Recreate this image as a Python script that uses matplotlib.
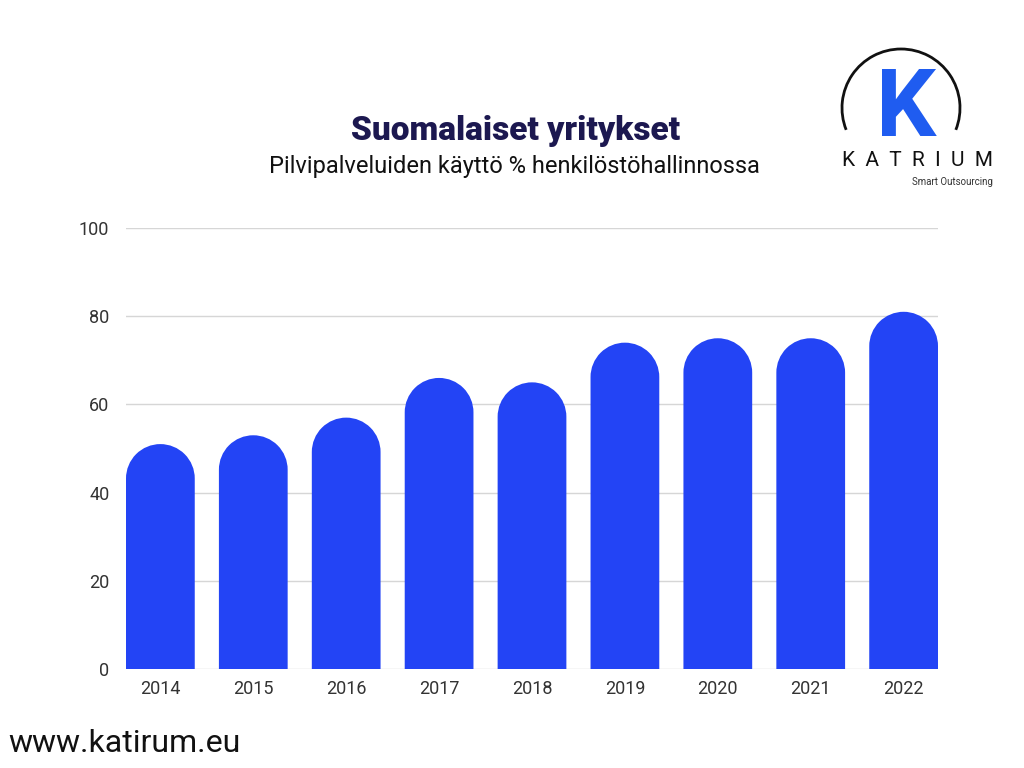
import matplotlib
matplotlib.use('Agg')
import matplotlib.pyplot as plt
from matplotlib.patches import Arc, PathPatch
from matplotlib.path import Path
from matplotlib.transforms import Affine2D

# Data
years = ['2014', '2015', '2016', '2017', '2018', '2019', '2020', '2021', '2022']
values = [51, 53, 57, 66, 65, 74, 75, 75, 81]
yticks = [0, 20, 40, 60, 80, 100]

bar_color = '#2344f5'
bar_w = 0.74

plt.rcParams['font.family'] = ['Roboto', 'DejaVu Sans']

fig = plt.figure(figsize=(10.24, 7.68), dpi=100)
ax = fig.add_axes([126 / 1024, 1 - 669 / 768, 812 / 1024, 441 / 768])
ax.set_xlim(-bar_w / 2, len(years) - 1 + bar_w / 2)
ax.set_ylim(0, 100)

# radius of the rounded top in y data units (so the cap is a circle on screen)
px_per_x = ax.bbox.width / (len(years) - 1 + bar_w)
px_per_y = ax.bbox.height / 100
rx = bar_w / 2
ry = rx * px_per_x / px_per_y


def rounded_bar(x, h):
    arc = Path.arc(0, 180)
    arc = arc.transformed(Affine2D().scale(rx, ry).translate(x, h - ry))
    verts = [(x + rx, 0)] + list(arc.vertices) + [(x - rx, 0), (x + rx, 0)]
    codes = [Path.MOVETO, Path.LINETO] + list(arc.codes[1:]) + [Path.LINETO, Path.CLOSEPOLY]
    return Path(verts, codes)


for i, v in enumerate(values):
    ax.add_patch(PathPatch(rounded_bar(i, v), facecolor=bar_color, lw=0, zorder=3))

ax.set_yticks(yticks)
ax.set_xticks(range(len(years)))
ax.set_xticklabels(years)
ax.grid(axis='y', color='#d6d6d6', lw=1, zorder=0)
ax.set_axisbelow(True)
for s in ax.spines.values():
    s.set_visible(False)
ax.tick_params(length=0, labelsize=13, labelcolor='#333333')
ax.tick_params(axis='y', pad=12)
ax.tick_params(axis='x', pad=8)

# Titles
fig.text(0.503, 1 - 131 / 768, 'Suomalaiset yritykset', ha='center', va='center',
         fontsize=24, fontweight='heavy', color='#1c1850')
fig.text(0.502, 1 - 166 / 768, 'Pilvipalveluiden käyttö % henkilöstöhallinnossa',
         ha='center', va='center', fontsize=17, color='#111111')

# Footer
fig.text(8 / 1024, 1 - 743 / 768, 'www.katirum.eu', ha='left', va='center',
         fontsize=23, color='#111111')

# Logo
fig.patches.append(Arc((901 / 1024, 1 - 108 / 768), 118 / 1024, 118 / 768,
                       theta1=-28, theta2=208, lw=2, color='#111111',
                       transform=fig.transFigure, figure=fig))
fig.text(906 / 1024, 1 - 110 / 768, 'K', ha='center', va='center',
         fontsize=68, fontweight='bold', color='#1f5cf0')
fig.text(917 / 1024, 1 - 161 / 768, 'K  A  T  R  I  U  M', ha='center', va='center',
         fontsize=15, color='#111111')
fig.text(952 / 1024, 1 - 182 / 768, 'Smart Outsourcing', ha='center', va='center',
         fontsize=7, color='#333333')

fig.savefig('out.png', dpi=100)
